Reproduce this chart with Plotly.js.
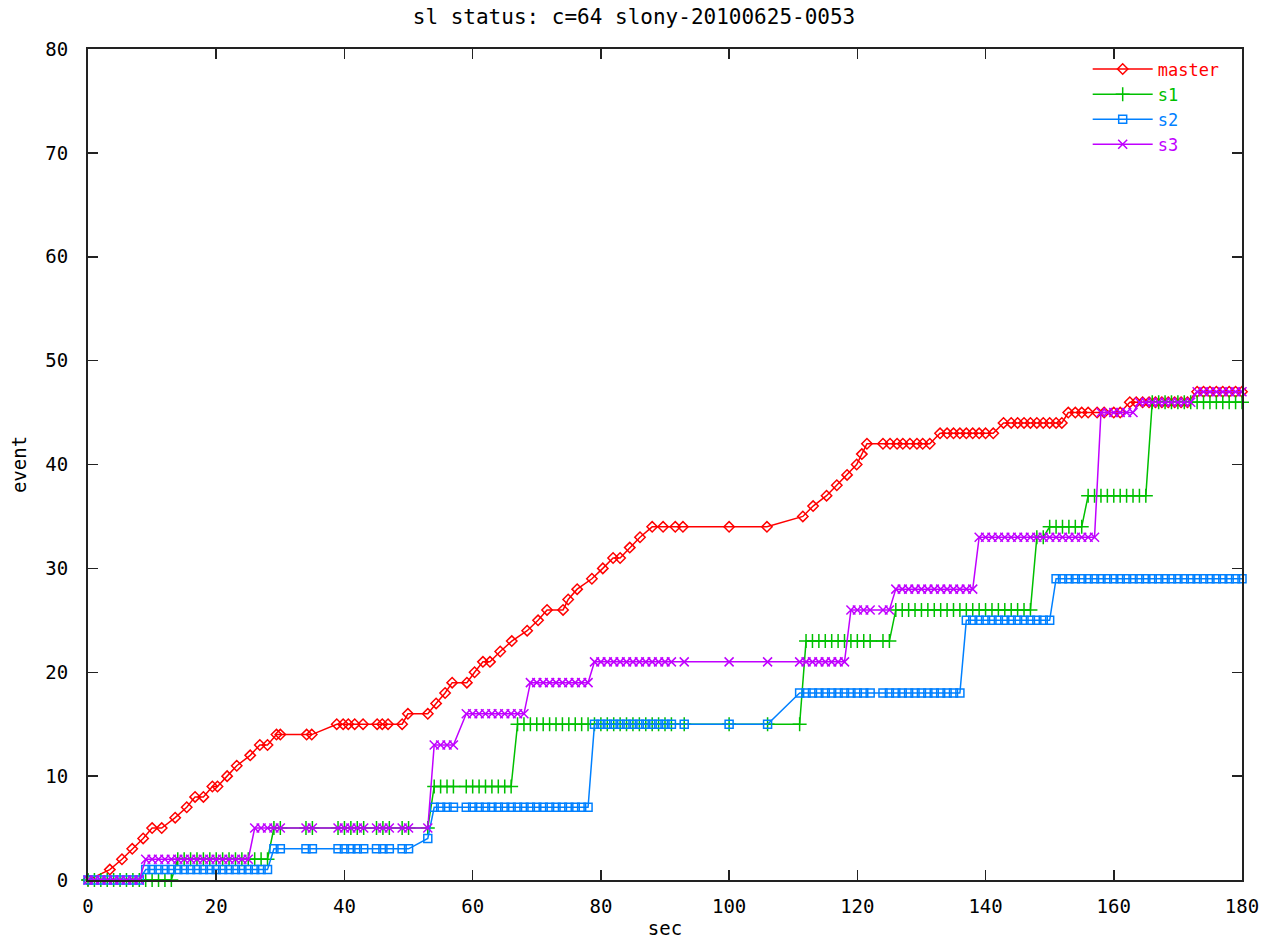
<!DOCTYPE html>
<html>
<head>
<meta charset="utf-8">
<script src="https://cdn.plot.ly/plotly-3.0.1.min.js"></script>
<style>html,body{margin:0;padding:0;background:#fff}#chart{width:1268px;height:947px}</style>
</head>
<body>
<div id="chart"></div>
<script>
// ---- data ----
const chartTitle = "sl status: c=64 slony-20100625-0053";
const seriesNames = ["master", "s1", "s2", "s3"];

const masterSec = [0, 3.4, 5.3, 6.9, 8.6, 10, 11.5, 13.6, 15.4, 16.7, 18, 19.4, 20.2, 21.7, 23.2, 25.3, 26.8, 28, 29.4, 30, 34.1, 34.9,
  38.8, 39.8, 40.6, 41.6, 42.9, 45.1, 45.9, 46.8, 49,
  49.9, 53, 54.3, 55.7, 56.8, 59.1, 60.3, 61.6, 62.7, 64.3, 66.1, 68.5, 70.2, 71.6, 74.1, 74.9, 76.3, 78.6, 80.3, 81.9, 83, 84.5, 86.1, 88, 89.7, 91.6, 92.8, 100, 105.9, 111.5, 113.1, 115.2, 116.8, 118.4, 119.9, 120.7,
  121.5, 124, 125.1, 126.2, 127.1, 128.2, 129.3, 130.2, 131.3,
  132.9, 134, 135, 136, 137, 138, 139, 140, 141.2,
  142.8, 144, 145, 146, 147, 148, 149, 150, 151, 151.9,
  152.9, 154, 155, 156, 157.4, 158.5, 160, 161,
  162.5, 163.5, 164.5, 165.5, 166.5, 167.5, 168.5, 169.5, 170.5, 171.5,
  173, 174, 175, 176, 177, 178, 179, 180];
const masterEvent = [0, 1, 2, 3, 4, 5, 5, 6, 7, 8, 8, 9, 9, 10, 11, 12, 13, 13, 14, 14, 14, 14,
  15, 15, 15, 15, 15, 15, 15, 15, 15,
  16, 16, 17, 18, 19, 19, 20, 21, 21, 22, 23, 24, 25, 26, 26, 27, 28, 29, 30, 31, 31, 32, 33, 34, 34, 34, 34, 34, 34, 35, 36, 37, 38, 39, 40, 41,
  42, 42, 42, 42, 42, 42, 42, 42, 42,
  43, 43, 43, 43, 43, 43, 43, 43, 43,
  44, 44, 44, 44, 44, 44, 44, 44, 44, 44,
  45, 45, 45, 45, 45, 45, 45, 45,
  46, 46, 46, 46, 46, 46, 46, 46, 46, 46,
  47, 47, 47, 47, 47, 47, 47, 47];

const slaveSec = [0, 1, 2, 3, 4, 5, 6, 7, 8, 9, 10, 11, 12, 13, 14, 15, 16, 17, 18, 19, 20, 21, 22, 23, 24, 25, 26, 27, 28, 29, 30,
  34, 35, 39, 40, 41, 42, 43, 45, 46, 47, 49, 50, 53, 54, 55, 56, 57,
  59, 60, 61, 62, 63, 64, 65, 66, 67, 68, 69, 70, 71, 72, 73, 74, 75, 76, 77, 78, 79, 80, 81, 82, 83, 84, 85, 86, 87, 88, 89, 90, 91,
  93, 100, 106,
  111, 112, 113, 114, 115, 116, 117, 118, 119, 120, 121, 122,
  124, 125, 126, 127, 128, 129, 130, 131, 132, 133, 134, 135, 136, 137, 138, 139, 140, 141, 142, 143, 144, 145, 146, 147, 148, 149, 150,
  151, 152, 153, 154, 155, 156, 157, 158, 159, 160, 161, 162, 163, 164, 165, 166, 167, 168, 169, 170, 171, 172, 173, 174, 175, 176, 177, 178, 179, 180];

const s1Event = [
  0, 0, 0, 0, 0, 0, 0, 0, 0, 0, 0, 0, 0, 0,
  2, 2, 2, 2, 2, 2, 2, 2, 2, 2, 2, 2, 2, 2, 2,
  5, 5,
  5, 5, 5, 5, 5, 5, 5, 5, 5, 5, 5, 5, 5,
  9, 9, 9, 9,
  9, 9, 9, 9, 9, 9, 9, 9,
  15, 15, 15, 15, 15, 15, 15, 15, 15, 15, 15, 15, 15, 15, 15, 15, 15, 15, 15, 15, 15, 15, 15, 15, 15,
  15, 15, 15,
  15, 23, 23, 23, 23, 23, 23, 23, 23, 23, 23, 23,
  23, 23,
  26, 26, 26, 26, 26, 26, 26, 26, 26, 26, 26, 26, 26, 26, 26, 26, 26, 26, 26, 26, 26, 26,
  33, 33,
  34, 34, 34, 34, 34, 34,
  37, 37, 37, 37, 37, 37, 37, 37, 37, 37,
  46, 46, 46, 46, 46, 46, 46, 46, 46, 46, 46, 46, 46, 46, 46];

const s2Event = [
  0, 0, 0, 0, 0, 0, 0, 0, 0,
  1, 1, 1, 1, 1, 1, 1, 1, 1, 1, 1, 1, 1, 1, 1, 1, 1, 1, 1, 1,
  3, 3,
  3, 3, 3, 3, 3, 3, 3, 3, 3, 3, 3, 3,
  4,
  7, 7, 7, 7,
  7, 7, 7, 7, 7, 7, 7, 7, 7, 7, 7, 7, 7, 7, 7, 7, 7, 7, 7, 7,
  15, 15, 15, 15, 15, 15, 15, 15, 15, 15, 15, 15, 15,
  15, 15, 15,
  18, 18, 18, 18, 18, 18, 18, 18, 18, 18, 18, 18,
  18, 18, 18, 18, 18, 18, 18, 18, 18, 18, 18, 18, 18,
  25, 25, 25, 25, 25, 25, 25, 25, 25, 25, 25, 25, 25, 25,
  29, 29, 29, 29, 29, 29, 29, 29, 29, 29, 29, 29, 29, 29, 29, 29, 29, 29, 29, 29, 29, 29, 29, 29, 29, 29, 29, 29, 29, 29];

const s3Event = [
  0, 0, 0, 0, 0, 0, 0, 0, 0,
  2, 2, 2, 2, 2, 2, 2, 2, 2, 2, 2, 2, 2, 2, 2, 2, 2,
  5, 5, 5, 5, 5,
  5, 5, 5, 5, 5, 5, 5, 5, 5, 5, 5, 5, 5,
  13, 13, 13, 13,
  16, 16, 16, 16, 16, 16, 16, 16, 16, 16,
  19, 19, 19, 19, 19, 19, 19, 19, 19, 19,
  21, 21, 21, 21, 21, 21, 21, 21, 21, 21, 21, 21, 21,
  21, 21, 21,
  21, 21, 21, 21, 21, 21, 21, 21, 26, 26, 26, 26,
  26, 26,
  28, 28, 28, 28, 28, 28, 28, 28, 28, 28, 28, 28, 28,
  33, 33, 33, 33, 33, 33, 33, 33, 33, 33, 33, 33, 33, 33, 33, 33, 33, 33, 33,
  45, 45, 45, 45, 45, 45,
  46, 46, 46, 46, 46, 46, 46, 46, 46,
  47, 47, 47, 47, 47, 47, 47, 47];

const xTicks = [0, 20, 40, 60, 80, 100, 120, 140, 160, 180];
const yTicks = [0, 10, 20, 30, 40, 50, 60, 70, 80];

// ---- styling ----
const FONT = "DejaVu Sans Mono, Liberation Mono, monospace";
const colors = ["#ff0000", "#00c000", "#0080ff", "#c000ff"];
const symbols = ["diamond-open", "cross-thin-open", "square-open", "x-thin-open"];
const sizes = [8, 10, 8, 9];
const xs = [masterSec, slaveSec, slaveSec, slaveSec];
const ys = [masterEvent, s1Event, s2Event, s3Event];

const traces = seriesNames.map((n, i) => ({
  type: "scatter",
  mode: "lines+markers",
  x: xs[i],
  y: ys[i],
  name: '<span style="color:' + colors[i] + '">' + n + '</span>',
  line: {color: colors[i], width: 1.5},
  marker: {symbol: symbols[i], size: sizes[i], color: colors[i], line: {color: colors[i], width: 1.5}},
  cliponaxis: false,
  hoverinfo: "x+y+name"
}));

const axisCommon = {
  showgrid: false, zeroline: false,
  showline: true, linecolor: "#222", linewidth: 2, mirror: "ticks",
  ticks: "inside", ticklen: 10, tickwidth: 1.5, tickcolor: "#222",
  tickfont: {family: FONT, size: 19, color: "#000"}
};

const layout = {
  width: 1268, height: 947,
  paper_bgcolor: "#fff", plot_bgcolor: "#fff",
  margin: {l: 88, r: 26, t: 49, b: 67, pad: 0},
  title: {text: chartTitle, font: {family: FONT, size: 21, color: "#000"}, x: 0.5, xanchor: "center", y: 0.982, yanchor: "middle"},
  xaxis: Object.assign({}, axisCommon, {
    range: [0, 180], tickvals: xTicks, ticktext: xTicks.map(String), ticklabelstandoff: 8,
    title: {text: "sec", font: {family: FONT, size: 19, color: "#000"}, standoff: 6}
  }),
  yaxis: Object.assign({}, axisCommon, {
    range: [0, 80], tickvals: yTicks, ticktext: yTicks.map(String), ticklabelstandoff: 14,
    title: {text: "event", font: {family: FONT, size: 19, color: "#000"}, standoff: 14}
  }),
  legend: {
    x: 0.985, xanchor: "right", y: 0.997, yanchor: "top",
    bgcolor: "rgba(0,0,0,0)", borderwidth: 0,
    font: {family: FONT, size: 17},
    tracegroupgap: 0, itemwidth: 60
  },
  showlegend: true
};

Plotly.newPlot("chart", traces, layout, {displayModeBar: false, staticPlot: true});
</script>
</body>
</html>
